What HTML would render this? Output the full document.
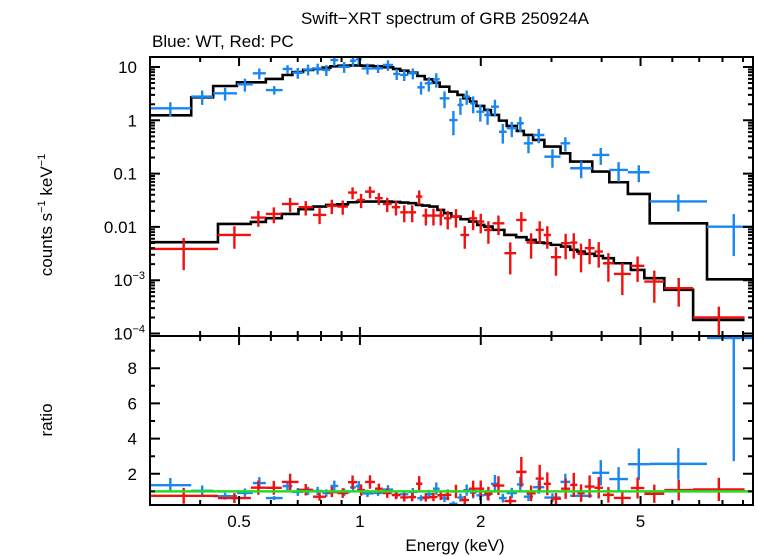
<!DOCTYPE html>
<html><head><meta charset="utf-8"><style>
html,body{margin:0;padding:0;background:#fff;}
svg{display:block;font-family:"Liberation Sans",sans-serif;}
</style></head><body>
<svg id="chart" width="758" height="556" viewBox="0 0 758 556" xmlns="http://www.w3.org/2000/svg">
<text x="445" y="24" font-size="17" text-anchor="middle">Swift−XRT spectrum of GRB 250924A</text>
<text x="152" y="47" font-size="17">Blue: WT, Red: PC</text>
<text transform="translate(52,215) rotate(-90)" font-size="17" text-anchor="middle">counts s<tspan font-size="11" dy="-7">−1</tspan><tspan dy="7"> keV</tspan><tspan font-size="11" dy="-7">−1</tspan></text>
<text transform="translate(52,420) rotate(-90)" font-size="17" text-anchor="middle">ratio</text>
<text x="455" y="551" font-size="17" text-anchor="middle">Energy (keV)</text>
<g id="plot"></g>
</svg>
<script>
// ---- data ----
const blueEdges=[0.299,0.380,0.431,0.494,0.541,0.583,0.642,0.679,0.722,0.764,0.806,0.844,0.883,0.945,0.977,1.01,1.08,1.14,1.21,1.26,1.32,1.39,1.45,1.52,1.58,1.67,1.75,1.81,1.88,1.95,2.04,2.12,2.22,2.32,2.46,2.56,2.70,2.88,3.16,3.34,3.79,4.18,4.65,5.27,7.32,9.95];
const blueValues=[1.68,2.78,3.21,4.73,7.6,3.70,9.2,7.8,9.0,9.4,8.8,13.5,10.1,13.1,13.9,9.4,9.4,10.9,7.4,7.1,7.6,4.16,4.94,5.87,2.59,1.01,1.94,2.78,2.08,1.45,1.26,1.80,0.61,0.71,0.88,0.37,0.53,0.208,0.37,0.126,0.224,0.117,0.106,0.030,0.0101];
const blueErr=[0.3,0.3,0.27,0.27,0.23,0.18,0.18,0.23,0.23,0.23,0.23,0.23,0.23,0.23,0.23,0.23,0.18,0.23,0.23,0.23,0.23,0.27,0.3,0.3,0.35,0.48,0.35,0.3,0.35,0.35,0.35,0.35,0.4,0.32,0.32,0.35,0.3,0.38,0.3,0.35,0.35,0.4,0.35,0.35,0.72];
const blueModel=[1.24,2.70,4.40,5.16,5.16,5.96,7.08,8.06,8.79,9.18,9.71,10.3,10.6,10.7,10.7,10.6,10.3,9.86,9.18,8.53,7.83,6.78,5.87,5.08,4.28,3.45,2.99,2.59,2.24,1.86,1.56,1.26,0.986,0.783,0.631,0.531,0.428,0.321,0.240,0.168,0.109,0.0688,0.0416,0.0117,0.00104];
const redEdges=[0.299,0.443,0.535,0.583,0.639,0.703,0.764,0.824,0.879,0.934,0.984,1.03,1.09,1.14,1.20,1.26,1.32,1.38,1.43,1.49,1.56,1.62,1.69,1.78,1.87,1.96,2.04,2.14,2.29,2.45,2.60,2.74,2.87,2.99,3.17,3.34,3.48,3.63,3.84,4.03,4.29,4.73,5.11,5.73,6.76,9.08];
const redValues=[0.00386,0.00708,0.0150,0.0175,0.0270,0.0234,0.0168,0.0248,0.0241,0.0441,0.0321,0.0459,0.0345,0.0270,0.0234,0.0188,0.0188,0.0371,0.0163,0.0163,0.0163,0.0145,0.0156,0.00708,0.0145,0.0126,0.00879,0.0117,0.00321,0.0135,0.00508,0.00879,0.00708,0.00270,0.00494,0.00508,0.00312,0.00398,0.00345,0.00208,0.00131,0.00186,0.000944,0.000708,0.000200];
const redErr=[0.6,0.45,0.33,0.33,0.3,0.3,0.33,0.3,0.3,0.25,0.3,0.25,0.25,0.3,0.3,0.35,0.35,0.3,0.35,0.35,0.35,0.38,0.38,0.45,0.4,0.4,0.45,0.4,0.6,0.4,0.5,0.45,0.45,0.55,0.5,0.5,0.55,0.5,0.5,0.55,0.6,0.5,0.6,0.55,0.6];
const redModel=[0.00516,0.01138,0.0124,0.01454,0.01754,0.02144,0.02404,0.02585,0.0266,0.029,0.0299,0.0299,0.0299,0.0299,0.0294,0.02858,0.0278,0.02585,0.0251,0.02404,0.02085,0.01803,0.01563,0.01393,0.01259,0.0109,0.01014,0.00879,0.00708,0.0064,0.0057,0.00508,0.00494,0.0046,0.00428,0.00371,0.00345,0.00312,0.00286,0.00259,0.00208,0.00156,0.00109,0.000659,0.000180];
const xTickLabels=[0.5,1,2,5];
const ratioTicks=[2,4,6,8];
const topTickLabels=[{v:10,t:"10"},{v:1,t:"1"},{v:0.1,t:"0.1"},{v:0.01,t:"0.01"},{v:1e-3,t:"10",e:"−3"},{v:1e-4,t:"10",e:"−4"}];

// ---- geometry ----
const L=150,R=753,T1=57,B1=336,T2=336,B2=505;
const xMin=0.3,xMax=9.53;
const X=e=>L+(Math.log10(e)-Math.log10(xMin))/(Math.log10(xMax)-Math.log10(xMin))*(R-L);
const Y1=v=>67+(1-Math.log10(v))*53.3;
const Y2=r=>509-r*17.6;
const NS="http://www.w3.org/2000/svg";
const plot=document.getElementById('plot');
function mk(tag,attrs,parent){const el=document.createElementNS(NS,tag);for(const k in attrs)el.setAttribute(k,attrs[k]);(parent||plot).appendChild(el);return el;}

// clip paths
const defs=mk('defs',{});
const c1=mk('clipPath',{id:'c1'},defs);mk('rect',{x:L,y:T1,width:R-L,height:B1-T1},c1);
const c2=mk('clipPath',{id:'c2'},defs);mk('rect',{x:L,y:T2,width:R-L,height:B2-T2},c2);
const g1=mk('g',{'clip-path':'url(#c1)'});


const g2=mk('g',{'clip-path':'url(#c2)'});



function crosses(g,edges,vals,errs,Yf,color,name,model){
  const grp=mk('g',{stroke:color,'stroke-width':2.4,fill:'none'},g);
  
  
  for(let i=0;i<vals.length;i++){
    const lo=edges[i],hi=edges[i+1];
    const c=Math.sqrt(lo*hi);
    let v=vals[i];
    if(model) v=vals[i]/model[i];
    const d=v*errs[i];
    const yc=Yf(v),yt=Yf(v+d),yb=(v-d>0)?Yf(v-d):2000;
    const p=mk('path',{d:`M${X(lo)},${yc}H${X(hi)}M${X(c)},${yt}V${yb}`},grp);
    
    
  }
}
function steps(g,edges,model,name){
  let d='';
  for(let i=0;i<model.length;i++){
    const y=Y1(model[i]);
    d+=(i===0?`M${X(edges[i])},${y}`:`V${y}`)+`H${X(edges[i+1])}`;
  }
  const p=mk('path',{d:d,stroke:'#000','stroke-width':2.6,fill:'none'},g);
  
  
}
steps(g1,blueEdges,blueModel,'wt-model-line');
steps(g1,redEdges,redModel,'pc-model-line');
crosses(g1,blueEdges,blueValues,blueErr,Y1,'#1a86f0','wt-data');
crosses(g1,redEdges,redValues,redErr,Y1,'#f01010','pc-data');
crosses(g2,blueEdges,blueValues,blueErr,Y2,'#1a86f0','wt-ratio',blueModel);
crosses(g2,redEdges,redValues,redErr,Y2,'#f01010','pc-ratio',redModel);
const gl=mk('line',{x1:L,x2:R,y1:Y2(1),y2:Y2(1),stroke:'#22dd22','stroke-width':2.5},g2);



// frames & ticks
const ax=mk('g',{stroke:'#000','stroke-width':2,fill:'none'});


mk('rect',{x:L,y:T1,width:R-L,height:B2-T1},ax);
mk('line',{x1:L,x2:R,y1:B1,y2:B1},ax);
let td='';
const xt=[0.3,0.4,0.5,0.6,0.7,0.8,0.9,1,2,3,4,5,6,7,8,9];
for(const e of xt){const x=X(e);const big=[1,2,5,0.5].includes(e)?9:5;
  td+=`M${x},${T1}v${big}M${x},${B1}v${-big}M${x},${T2}v${big}M${x},${B2}v${-big}`;}
for(let p=-4;p<=1;p++)for(let m=1;m<=9;m++){const v=m*Math.pow(10,p);if(v>15.4||v<9e-5)continue;const y=Y1(v);const len=m===1?10:5;
  td+=`M${L},${y}h${len}M${R},${y}h${-len}`;}
for(let r=1;r<=9;r++){const y=Y2(r);const len=r%2===0?10:5;td+=`M${L},${y}h${len}M${R},${y}h${-len}`;}
mk('path',{d:td},ax);

const lab=mk('g',{'font-size':17,fill:'#000'});


for(const tl of topTickLabels){const t=mk('text',{x:137,y:Y1(tl.v)+6,'text-anchor':'end'},lab);
  
  
  if(tl.e){t.textContent=tl.t;const s=mk('tspan',{'font-size':11,dy:-7},t);s.textContent=tl.e;t.setAttribute('x',145);}
  else t.textContent=tl.t;}
for(const r of ratioTicks){const t=mk('text',{x:137,y:Y2(r)+6,'text-anchor':'end'},lab);t.textContent=r;
  
  }
for(const e of xTickLabels){const t=mk('text',{x:X(e),y:527,'text-anchor':'middle'},lab);t.textContent=e;
  
  }
</script>
</body></html>
